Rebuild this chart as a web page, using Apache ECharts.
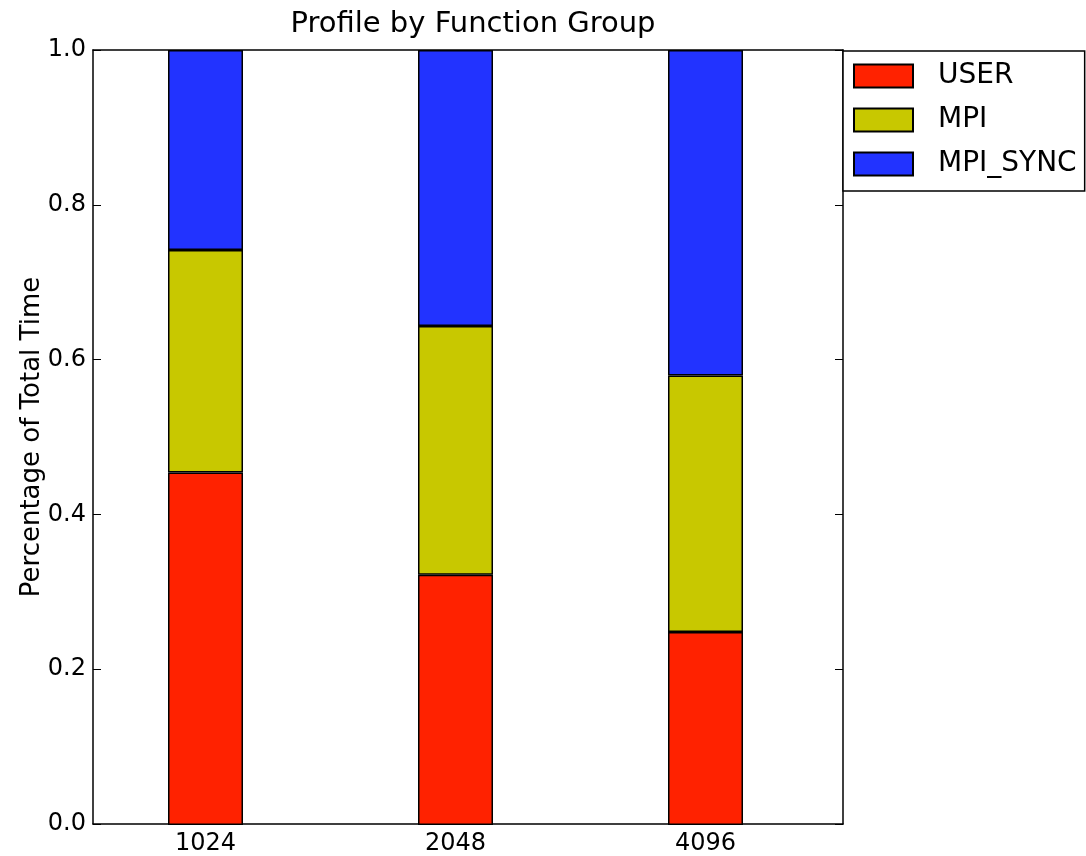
<!DOCTYPE html>
<html>
<head>
<meta charset="utf-8">
<title>Profile by Function Group</title>
<script src="https://cdn.jsdelivr.net/npm/echarts@6/dist/echarts.min.js"></script>
<style>
  html, body { margin: 0; padding: 0; background: #fff; }
  #chart { width: 1086px; height: 856px; }
</style>
</head>
<body>
<div id="chart"></div>
<script>
// Process counts shown under each bar
const categories = ['1024', '2048', '4096'];
// Bar centres on the frame's x scale
const positions = [0, 1, 2];

// Fraction of total time per function group
const userValues = [0.455, 0.323, 0.249];
const mpiValues = [0.287, 0.321, 0.331];
const mpiSyncValues = [0.258, 0.356, 0.420];

const yTicks = [0.0, 0.2, 0.4, 0.6, 0.8, 1.0];

const FONT = 'DejaVu Sans';
const colors = { USER: '#ff2200', MPI: '#c8c800', MPI_SYNC: '#2233ff' };

// Frame: x runs from -0.45 to 2.55 over 750 px (250 px per step).
// Bars live in a second grid whose category bands (250 px each) are
// centred on x = 0, 1, 2 of the frame scale.
const PLOT_LEFT = 93, PLOT_TOP = 50, PLOT_W = 750, PLOT_H = 775;
const X_MIN = -0.45, X_MAX = 2.55;
const STEP = PLOT_W / (X_MAX - X_MIN);
const BAR_GRID_LEFT = PLOT_LEFT + (0 - X_MIN) * STEP - STEP / 2;

function barSeries(name, vals) {
  return {
    name: name,
    type: 'bar',
    stack: 'total',
    barWidth: 75,
    data: vals,
    xAxisIndex: 2,
    yAxisIndex: 2,
    itemStyle: { color: colors[name], borderColor: '#000', borderWidth: 1.5 },
    emphasis: { disabled: true }
  };
}

const axisLineStyle = { color: '#000', width: 1.5 };
const tickStyle = { color: '#000', width: 1 };

const xFrame = {
  type: 'value',
  gridIndex: 0,
  min: X_MIN,
  max: X_MAX,
  splitLine: { show: false },
  axisLine: { show: true, onZero: false, lineStyle: axisLineStyle },
  axisTick: { show: true, inside: true, length: 8, lineStyle: tickStyle, customValues: positions }
};

const yFrame = {
  type: 'value',
  gridIndex: 0,
  min: 0,
  max: 1,
  interval: 0.2,
  splitLine: { show: false },
  axisLine: { show: true, onZero: false, lineStyle: axisLineStyle },
  axisTick: { show: true, inside: true, length: 8, lineStyle: tickStyle }
};

const chart = echarts.init(document.getElementById('chart'), null, { renderer: 'canvas' });

chart.setOption({
  animation: false,
  backgroundColor: '#fff',
  textStyle: { fontFamily: FONT },
  title: {
    text: 'Profile by Function Group',
    left: PLOT_LEFT + PLOT_W / 2,
    textAlign: 'center',
    top: 5,
    textStyle: { fontFamily: FONT, fontSize: 29, fontWeight: 'normal', color: '#000' }
  },
  grid: [
    { left: PLOT_LEFT, top: PLOT_TOP, width: PLOT_W, height: PLOT_H, containLabel: false },
    { left: BAR_GRID_LEFT, top: PLOT_TOP, width: PLOT_W, height: PLOT_H, containLabel: false }
  ],
  legend: {
    orient: 'vertical',
    left: 843,
    top: 51,
    padding: [11, 8, 13, 10],
    itemWidth: 59,
    itemHeight: 23,
    itemGap: 16,
    borderColor: '#000',
    borderWidth: 1.5,
    backgroundColor: '#fff',
    icon: 'rect',
    selectedMode: false,
    textStyle: { fontFamily: FONT, fontSize: 28, color: '#000', padding: [0, 0, 0, 20] },
    data: ['USER', 'MPI', 'MPI_SYNC']
  },
  xAxis: [
    Object.assign({}, xFrame, {
      position: 'bottom',
      axisLabel: {
        show: true,
        margin: 8,
        fontFamily: FONT,
        fontSize: 24,
        color: '#000',
        customValues: positions,
        formatter: v => categories[Math.round(v)]
      }
    }),
    Object.assign({}, xFrame, { position: 'top', axisLabel: { show: false } }),
    {
      type: 'category',
      gridIndex: 1,
      data: categories,
      show: false
    }
  ],
  yAxis: [
    Object.assign({}, yFrame, {
      position: 'left',
      name: 'Percentage of Total Time',
      nameLocation: 'middle',
      nameGap: 48,
      nameRotate: 90,
      nameMoveOverlap: false,
      nameTextStyle: { fontFamily: FONT, fontSize: 26, color: '#000' },
      axisLabel: {
        show: true,
        margin: 7,
        fontFamily: FONT,
        fontSize: 24,
        color: '#000',
        customValues: yTicks,
        formatter: v => v.toFixed(1)
      }
    }),
    Object.assign({}, yFrame, { position: 'right', axisLabel: { show: false } }),
    {
      type: 'value',
      gridIndex: 1,
      min: 0,
      max: 1,
      show: false
    }
  ],
  series: [
    barSeries('USER', userValues),
    barSeries('MPI', mpiValues),
    barSeries('MPI_SYNC', mpiSyncValues)
  ]
});
</script>
</body>
</html>
